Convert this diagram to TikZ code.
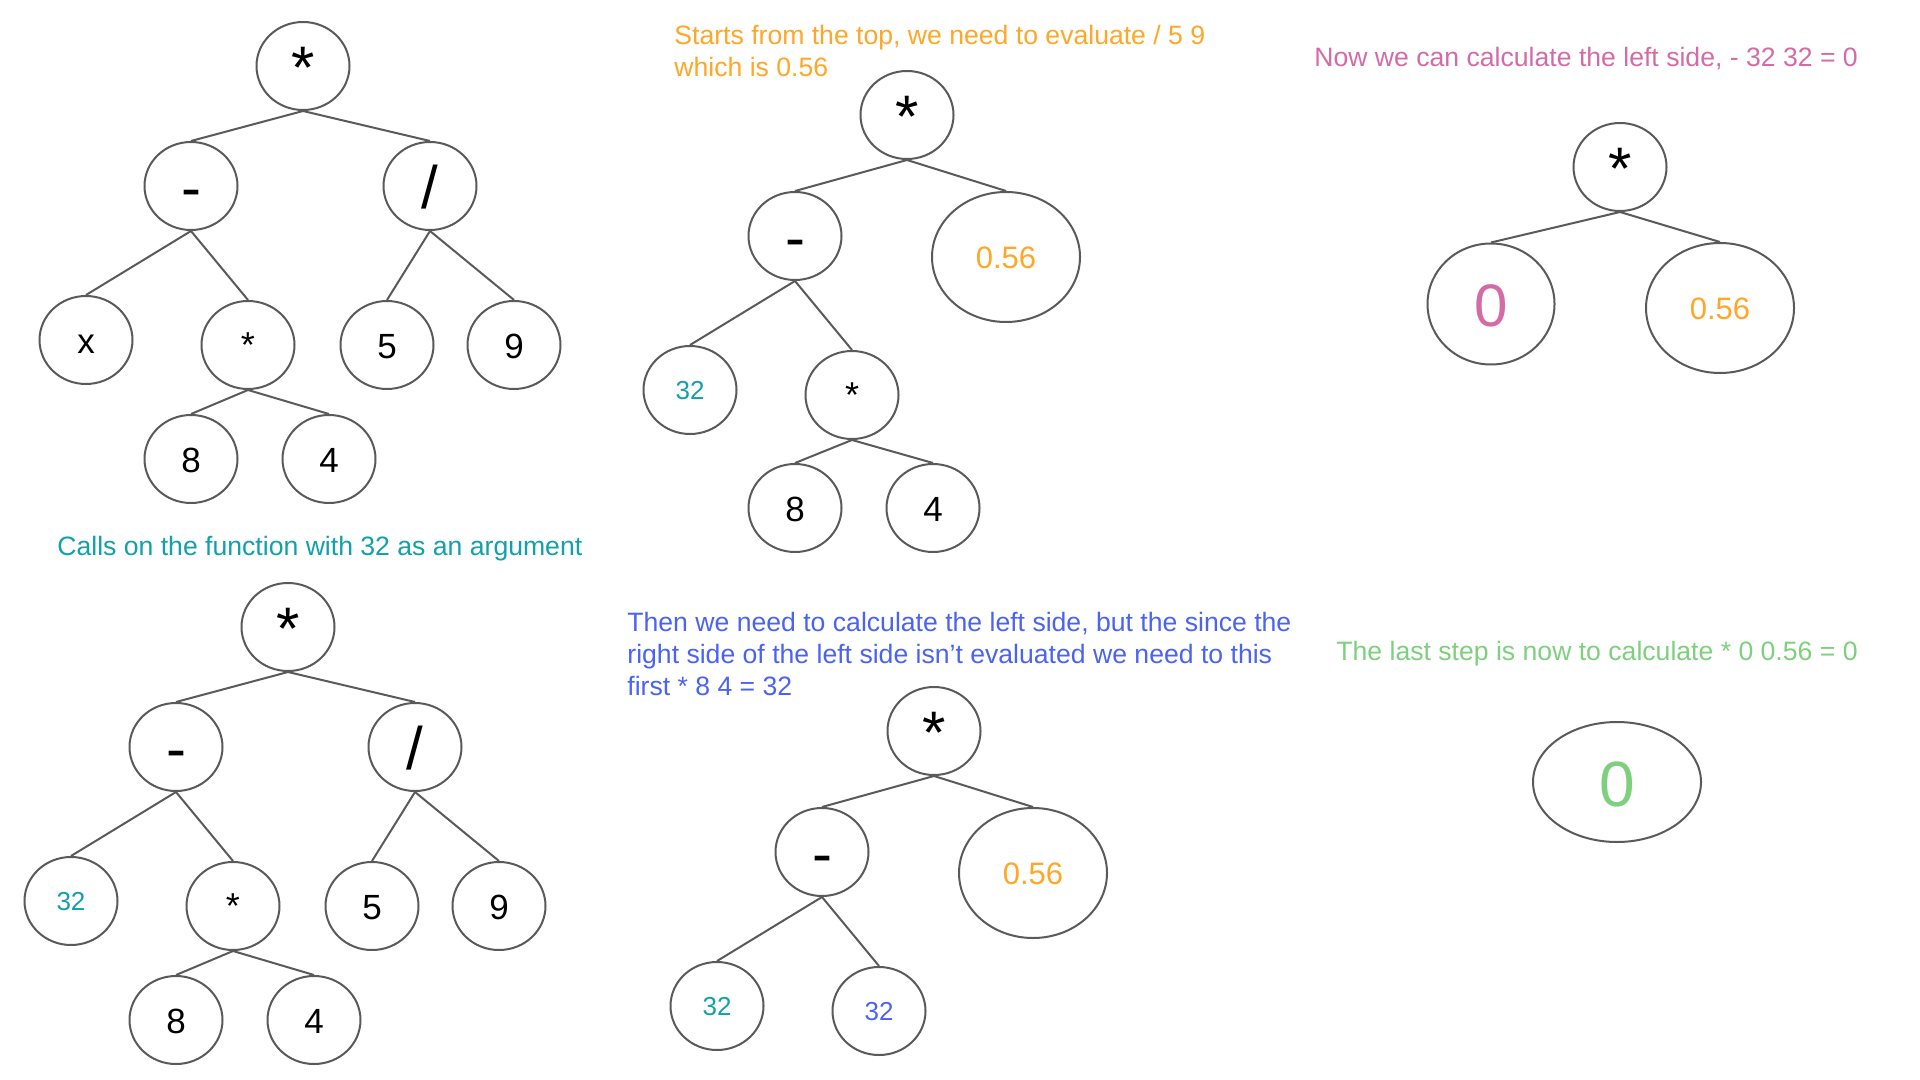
\documentclass[tikz,border=0pt]{standalone}
\usepackage{fontspec}
\setmainfont{Liberation Sans}
\usetikzlibrary{shapes.geometric}
\definecolor{lc}{HTML}{5A5A5A}
\definecolor{orng}{HTML}{FFA726}
\definecolor{tealc}{HTML}{12A1AB}
\definecolor{pinkc}{HTML}{D36CA6}
\definecolor{bluec}{HTML}{4B63F3}
\definecolor{greenc}{HTML}{7FD07E}
\tikzset{
  nd/.style={draw=lc, line width=1pt, ellipse, inner sep=0pt,
    minimum width=46.5pt, minimum height=44pt},
  op/.style={nd, font=\fontsize{30}{36}\selectfont, text height=25.5pt, text depth=3pt},
  lf/.style={nd, font=\fontsize{17.5}{21}\selectfont, text height=14.9pt, text depth=1.75pt},
  sm/.style={nd, font=\fontsize{18}{22}\selectfont, text height=14.5pt, text depth=1.8pt},
  num/.style={nd, font=\fontsize{13}{16}\selectfont, text height=11pt, text depth=1.3pt},
  mid/.style={nd, font=\fontsize{15.5}{18}\selectfont, text height=13.2pt, text depth=1.5pt},
  huge0/.style={nd, font=\fontsize{30}{36}\selectfont, text height=25.5pt, text depth=3pt},
  wide/.style={minimum width=74pt, minimum height=65pt},
  txt/.style={anchor=base west, inner sep=0pt, font=\fontsize{13.3}{16}\selectfont},
  ed/.style={draw=lc, line width=1pt}
}
\begin{document}
\begin{tikzpicture}[x=0.5pt,y=-0.5pt]
\fill[white] (0,0) rectangle (1920,1080);
\useasboundingbox (0,0) rectangle (1920,1080);

% ---------- Tree 1 ----------
\node[op] (t1r) at (303,66) {*};
\node[op] (t1m) at (191,186) {-};
\node[op] (t1d) at (430,186) {/};
\node[lf] (t1x) at (86,340) {x};
\node[sm] (t1s) at (248,345) {*};
\node[lf] (t1five) at (387,345) {5};
\node[lf] (t1nine) at (514,345) {9};
\node[lf] (t1e) at (191,459) {8};
\node[lf] (t1f) at (329,459) {4};
\draw[ed] (t1r.south) -- (t1m.north);
\draw[ed] (t1r.south) -- (t1d.north);
\draw[ed] (t1m.south) -- (t1x.north);
\draw[ed] (t1m.south) -- (t1s.north);
\draw[ed] (t1d.south) -- (t1five.north);
\draw[ed] (t1d.south) -- (t1nine.north);
\draw[ed] (t1s.south) -- (t1e.north);
\draw[ed] (t1s.south) -- (t1f.north);

% ---------- Text teal ----------
\node[txt, text=tealc] (lbl1) at (57,555) {Calls on the function with 32 as an argument};

% ---------- Tree 3 ----------
\node[op] (t3r) at (288,627) {*};
\node[op] (t3m) at (176,747) {-};
\node[op] (t3d) at (415,747) {/};
\node[num, text=tealc] (t3a) at (71,901) {32};
\node[sm] (t3s) at (233,906) {*};
\node[lf] (t3five) at (372,906) {5};
\node[lf] (t3nine) at (499,906) {9};
\node[lf] (t3e) at (176,1020) {8};
\node[lf] (t3f) at (314,1020) {4};
\draw[ed] (t3r.south) -- (t3m.north);
\draw[ed] (t3r.south) -- (t3d.north);
\draw[ed] (t3m.south) -- (t3a.north);
\draw[ed] (t3m.south) -- (t3s.north);
\draw[ed] (t3d.south) -- (t3five.north);
\draw[ed] (t3d.south) -- (t3nine.north);
\draw[ed] (t3s.south) -- (t3e.north);
\draw[ed] (t3s.south) -- (t3f.north);

% ---------- Text orange ----------
\node[txt, text=orng] (lbl2a) at (674,45) {Starts from the top, we need to evaluate / 5 9};
\node[txt, text=orng] (lbl2b) at (674,77) {which is 0.56};

% ---------- Tree 2 ----------
\node[op] (t2r) at (907,115) {*};
\node[op] (t2m) at (795,236) {-};
\node[mid, wide, text=orng] (t2v) at (1006,257) {0.56};
\node[num, text=tealc] (t2a) at (690,390) {32};
\node[sm] (t2s) at (852,395) {*};
\node[lf] (t2e) at (795,508) {8};
\node[lf] (t2f) at (933,508) {4};
\draw[ed] (t2r.south) -- (t2m.north);
\draw[ed] (t2r.south) -- (t2v.north);
\draw[ed] (t2m.south) -- (t2a.north);
\draw[ed] (t2m.south) -- (t2s.north);
\draw[ed] (t2s.south) -- (t2e.north);
\draw[ed] (t2s.south) -- (t2f.north);

% ---------- Text blue ----------
\node[txt, text=bluec] (lbl3a) at (627,631) {Then we need to calculate the left side, but the since the};
\node[txt, text=bluec] (lbl3b) at (627,663) {right side of the left side isn’t evaluated we need to this};
\node[txt, text=bluec] (lbl3c) at (627,695) {first * 8 4 = 32};

% ---------- Tree 5 ----------
\node[op] (t5r) at (934,731) {*};
\node[op] (t5m) at (822,852) {-};
\node[mid, wide, text=orng] (t5v) at (1033,873) {0.56};
\node[num, text=tealc] (t5a) at (717,1006) {32};
\node[num, text=bluec] (t5b) at (879,1011) {32};
\draw[ed] (t5r.south) -- (t5m.north);
\draw[ed] (t5r.south) -- (t5v.north);
\draw[ed] (t5m.south) -- (t5a.north);
\draw[ed] (t5m.south) -- (t5b.north);

% ---------- Text pink ----------
\node[txt, text=pinkc] (lbl4) at (1314,67) {Now we can calculate the left side, - 32 32 = 0};

% ---------- Tree 4 ----------
\node[op] (t4r) at (1620,167) {*};
\node[huge0, minimum width=63.5pt, minimum height=60.5pt, text=pinkc] (t4z) at (1491,304) {0};
\node[mid, wide, text=orng] (t4v) at (1720,308) {0.56};
\draw[ed] (t4r.south) -- (t4z.north);
\draw[ed] (t4r.south) -- (t4v.north);

% ---------- Text green ----------
\node[txt, text=greenc] (lbl5) at (1336,660) {The last step is now to calculate * 0 0.56 = 0};

% ---------- Final ----------
\node[huge0, minimum width=84pt, minimum height=60pt, text=greenc,
  font=\fontsize{32}{38}\selectfont, text height=27.2pt, text depth=3.2pt] (t6) at (1617,782) {0};
\end{tikzpicture}
\end{document}
